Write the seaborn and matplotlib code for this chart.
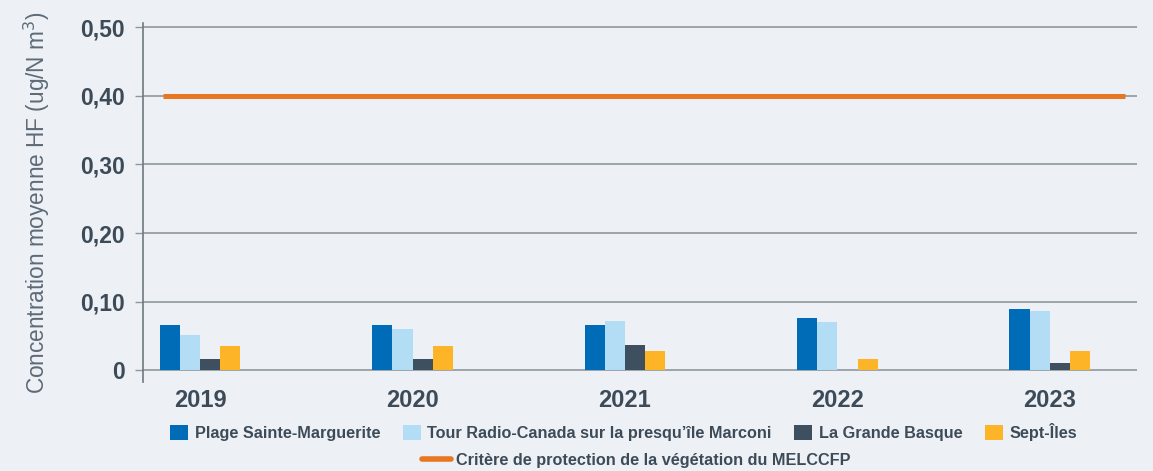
import numpy as np
import pandas as pd
import matplotlib
matplotlib.use("Agg")
import matplotlib.pyplot as plt
import seaborn as sns
from matplotlib.patches import Patch
from matplotlib.lines import Line2D

years = ["2019", "2020", "2021", "2022", "2023"]
sites = ["Plage Sainte-Marguerite",
         "Tour Radio-Canada sur la presqu’île Marconi",
         "La Grande Basque",
         "Sept-Îles"]
plage = [0.066, 0.066, 0.066, 0.076, 0.089]
tour = [0.051, 0.060, 0.072, 0.071, 0.086]
grande_basque = [0.016, 0.016, 0.037, np.nan, 0.010]
sept_iles = [0.036, 0.036, 0.028, 0.017, 0.028]
critere = 0.40
critere_label = "Critère de protection de la végétation du MELCCFP"
yticks = [0, 0.10, 0.20, 0.30, 0.40, 0.50]
yticklabels = ["0", "0,10", "0,20", "0,30", "0,40", "0,50"]
ylabel = "Concentration moyenne HF (ug/N m$^3$)"

colors = ["#006BB6", "#B3DDF5", "#3E5060", "#FDB527"]
orange = "#E87722"
bg = "#EDF1F5"
txt = "#3D4B59"
grid_c = "#8E979F"

rows = []
for s, vals in zip(sites, [plage, tour, grande_basque, sept_iles]):
    for y, v in zip(years, vals):
        rows.append({"year": y, "site": s, "value": v})
df = pd.DataFrame(rows)

sns.set_theme(style="white")
plt.rcParams["font.family"] = ["Liberation Sans", "DejaVu Sans"]

fig = plt.figure(figsize=(11.53, 4.71), dpi=100, facecolor=bg)
ax = fig.add_axes([0.124, 0.189, 0.862, 0.762])
ax.set_facecolor(bg)

sns.barplot(data=df, x="year", y="value", hue="site", order=years,
            hue_order=sites, palette=colors, width=0.38, gap=0,
            linewidth=0, saturation=1, legend=False, ax=ax, zorder=3)

ax.hlines(critere, -0.175, 4.354, color=orange, lw=3.6, zorder=4)

ax.set_xlim(-0.269, 4.41)
ax.set_ylim(-0.017, 0.506)
ax.set_yticks(yticks)
ax.set_yticklabels(yticklabels, fontsize=16.5, fontweight="bold", color=txt)
for lbl in ax.get_xticklabels():
    lbl.set_fontsize(17)
    lbl.set_fontweight("bold")
    lbl.set_color(txt)
ax.tick_params(axis="x", length=0, pad=5)
ax.tick_params(axis="y", length=6, width=1, color=grid_c, pad=7, direction="out", left=True)
for yv in yticks:
    ax.axhline(yv, color=grid_c, lw=1.2, zorder=1)
for sp in ["top", "right", "bottom"]:
    ax.spines[sp].set_visible(False)
ax.spines["left"].set_color("#6E7880")
ax.spines["left"].set_linewidth(1.2)
ax.set_xlabel("")
ax.set_ylabel(ylabel, fontsize=16.3, color="#5E6B77")
ax.yaxis.set_label_coords(-0.0915, 0.5)

handles = [Patch(facecolor=c, edgecolor="none") for c in colors]
leg1 = fig.legend(handles, sites, loc="center", bbox_to_anchor=(0.541, 0.083),
                  ncol=4, frameon=False, handlelength=1.1, handleheight=1.1,
                  handletextpad=0.4, columnspacing=1.4,
                  prop={"weight": "bold", "size": 11.7})
for t in leg1.get_texts():
    t.set_color(txt)
h2 = [Line2D([0], [0], color=orange, lw=4)]
leg2 = fig.legend(h2, [critere_label], loc="center", bbox_to_anchor=(0.552, 0.022),
                  frameon=False, handlelength=1.8, handletextpad=0.3,
                  prop={"weight": "bold", "size": 11.7})
for t in leg2.get_texts():
    t.set_color(txt)

fig.savefig("out.png", dpi=100, facecolor=bg)
